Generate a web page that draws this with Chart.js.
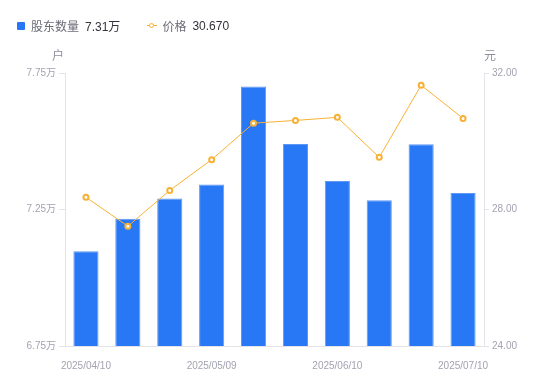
<!DOCTYPE html>
<html><head><meta charset="utf-8">
<script src="https://cdn.jsdelivr.net/npm/chart.js@4/dist/chart.umd.min.js"></script>
<style>
html,body{margin:0;padding:0;background:#fff;}
#wrap{position:relative;width:550px;height:381px;}
#legend{position:absolute;left:17px;top:17px;font-family:Arial,"Liberation Sans","Noto Sans CJK SC",sans-serif;font-size:12px;display:flex;align-items:center;white-space:nowrap;}
.item{display:flex;align-items:center;margin-right:27px;}
.sq{width:8px;height:8px;background:#2878f5;border-radius:1px;margin-right:6px;}
.ln{position:relative;width:10px;height:8px;margin-right:5px;}
.ln:before{content:"";position:absolute;left:0;right:0;top:3.5px;height:1px;background:#f7b135;}
.ln:after{content:"";position:absolute;left:2px;top:1px;width:3px;height:3px;border:1.5px solid #f7b135;border-radius:50%;background:#fff;}
.nm{color:#6b6b78;margin-right:6px;}
.vl{color:#33333d;}
</style></head>
<body><div id="wrap"><canvas id="c" width="550" height="381"></canvas>
<div id="legend">
<div class="item"><span class="sq"></span><span class="nm">股东数量</span><span class="vl">7.31万</span></div>
<div class="item"><span class="ln"></span><span class="nm">价格</span><span class="vl">30.670</span></div>
</div></div>
<script>
const categories = ["2025/04/10","2025/04/18","2025/04/30","2025/05/09","2025/05/20","2025/05/30","2025/06/10","2025/06/20","2025/06/30","2025/07/10"];
const shownLabels = ["2025/04/10","2025/05/09","2025/06/10","2025/07/10"];
const holders = [7.097, 7.216, 7.290, 7.342, 7.701, 7.490, 7.354, 7.284, 7.489, 7.31];
const prices = [28.36, 27.51, 28.56, 29.46, 30.53, 30.61, 30.70, 29.53, 31.64, 30.67];
const leftTicks = [6.75, 7.25, 7.75];
const rightTicks = [24, 28, 32];

const FONT = 'Arial, "Liberation Sans", "Noto Sans CJK SC", sans-serif';
const tickColor = '#a3a3b1';
const axisColor = '#e3e3e8';

const axisTitles = {
  id:'axisTitles',
  afterDraw(chart){
    const {ctx, chartArea} = chart;
    ctx.save();
    ctx.font = '12px ' + FONT;
    ctx.fillStyle = '#8e8e9c';
    ctx.textBaseline = 'middle';
    ctx.textAlign = 'center';
    ctx.fillText('户', chart.scales.y.right - 7, chartArea.top - 16);
    ctx.fillText('元', chart.scales.y1.left + 6, chartArea.top - 16);
    ctx.restore();
  }
};

new Chart(document.getElementById('c'), {
  data: {
    labels: categories,
    datasets: [
      {type:'line', label:'价格', data: prices, yAxisID:'y1', order:0,
       borderColor:'#f7b135', borderWidth:1, pointRadius:2.5, pointBorderWidth:2,
       pointBackgroundColor:'#fff', pointBorderColor:'#f7b135', tension:0},
      {type:'bar', label:'股东数量', data: holders, yAxisID:'y', order:1,
       backgroundColor:'#2878f5', borderColor:'#5d98f6', borderWidth:{top:1,left:1,right:1,bottom:0},
       categoryPercentage:0.6, barPercentage:1}
    ]
  },
  options: {
    responsive:false, animation:false,
    layout:{padding:{top:73,left:0,right:0,bottom:0}},
    plugins:{legend:{display:false}, tooltip:{enabled:false}},
    scales:{
      x:{
        offset:true,
        grid:{display:false},
        border:{display:true,color:axisColor},
        ticks:{autoSkip:false,maxRotation:0,color:tickColor,font:{size:10,family:FONT},padding:6,
          callback:function(v,i){const l=categories[i];return shownLabels.includes(l)?l:'';}},
        afterFit(s){s.height=35;}
      },
      y:{
        position:'left', min:6.75, max:7.75,
        afterBuildTicks(s){s.ticks=leftTicks.map(v=>({value:v}));},
        grid:{drawOnChartArea:false,tickLength:6,color:axisColor},
        border:{display:true,color:axisColor},
        ticks:{color:tickColor,font:{size:10,family:FONT},padding:3,callback:v=>v.toFixed(2)+'万'},
        afterFit(s){s.width=65;}
      },
      y1:{
        position:'right', min:24, max:32,
        afterBuildTicks(s){s.ticks=rightTicks.map(v=>({value:v}));},
        grid:{drawOnChartArea:false,tickLength:5,color:axisColor},
        border:{display:true,color:axisColor},
        ticks:{color:tickColor,font:{size:10,family:FONT},padding:3,callback:v=>v.toFixed(2)},
        afterFit(s){s.width=66;}
      }
    }
  },
  plugins:[axisTitles]
});
</script></body></html>
